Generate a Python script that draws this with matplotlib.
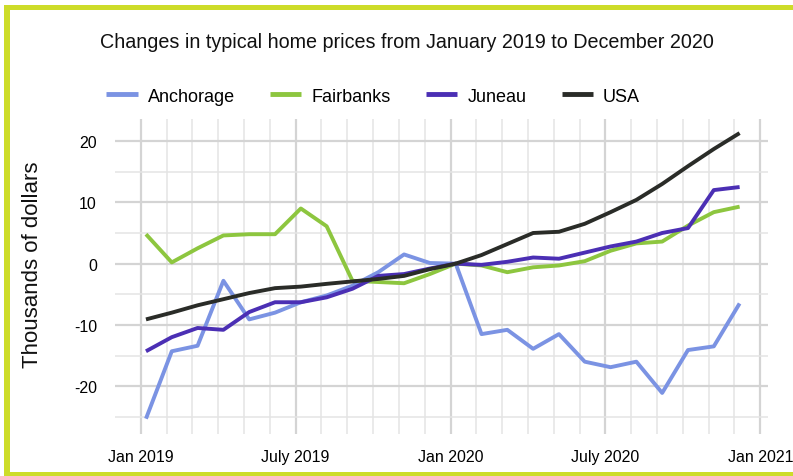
import matplotlib
matplotlib.use("Agg")
import matplotlib.pyplot as plt
from matplotlib.patches import Rectangle
import numpy as np

months = list(range(24))  # Jan 2019 .. Dec 2020
anchorage = [-25.3, -14.3, -13.4, -2.8, -9.1, -8.0, -6.3, -5.2, -3.6, -1.4, 1.5, 0.1,
             0.0, -11.5, -10.8, -13.9, -11.5, -16.0, -16.9, -16.0, -21.1, -14.1, -13.5, -6.5]
fairbanks = [4.8, 0.2, 2.5, 4.6, 4.8, 4.8, 9.0, 6.1, -2.8, -3.0, -3.2, -1.7,
             0.0, -0.3, -1.4, -0.6, -0.3, 0.4, 2.1, 3.3, 3.6, 6.2, 8.4, 9.3]
juneau = [-14.3, -12.0, -10.5, -10.8, -7.9, -6.3, -6.3, -5.5, -4.1, -2.0, -1.7, -0.8,
          0.0, -0.2, 0.3, 1.0, 0.8, 1.8, 2.8, 3.6, 5.0, 5.8, 12.0, 12.5]
usa = [-9.1, -8.0, -6.8, -5.8, -4.8, -4.0, -3.75, -3.3, -2.9, -2.5, -2.0, -0.9,
       0.0, 1.4, 3.2, 5.0, 5.2, 6.5, 8.4, 10.4, 13.0, 15.9, 18.7, 21.3]

series_names = ["Anchorage", "Fairbanks", "Juneau", "USA"]
series_values = [anchorage, fairbanks, juneau, usa]
colors = ["#7b93e3", "#8dc63f", "#4b2fb4", "#2a2c28"]

x_tick_pos = [0, 6, 12, 18, 24]
x_tick_labels = ["Jan 2019", "July 2019", "Jan 2020", "July 2020", "Jan 2021"]
y_ticks = [-20, -10, 0, 10, 20]

W, H = 793, 477
fig = plt.figure(figsize=(W / 100, H / 100), dpi=100)
fig.patch.set_facecolor("white")

font_main = ["Liberation Sans", "DejaVu Sans"]

ax_l, ax_r, ax_t, ax_b = 115, 768, 120, 435
ax = fig.add_axes([ax_l / W, 1 - ax_b / H, (ax_r - ax_l) / W, (ax_b - ax_t) / H])

x = np.array(months) + 0.2
for name, vals, c in zip(series_names, series_values, colors):
    ax.plot(x, vals, color=c, lw=2.8, label=name, solid_capstyle="butt", zorder=3)

ax.set_xlim(-1.0, 24.3)
ax.set_ylim(-27.8, 23.6)

ax.set_xticks(x_tick_pos)
ax.set_xticklabels(x_tick_labels, fontfamily=font_main, fontsize=11.5)
ax.set_xticks(range(25), minor=True)
ax.set_yticks(y_ticks)
ax.set_yticklabels([str(v) for v in y_ticks], fontfamily=font_main, fontsize=11.5)
ax.set_yticks(np.arange(-25, 21, 5), minor=True)

ax.tick_params(axis="both", which="both", length=0)
ax.tick_params(axis="x", pad=11)
ax.tick_params(axis="y", pad=13)

ax.grid(True, which="major", color="#d4d4d4", lw=1.6, zorder=0)
ax.grid(True, which="minor", color="#e4e4e4", lw=1.1, zorder=0)
ax.set_axisbelow(True)
for s in ax.spines.values():
    s.set_visible(False)

fig.text(33 / W, 1 - 265 / H, "Thousands of dollars", rotation=90,
         ha="center", va="center", fontsize=16, family=font_main, color="#111111")

fig.text(407 / W, 1 - 42 / H, "Changes in typical home prices from January 2019 to December 2020",
         ha="center", va="center", fontsize=14.2, family=font_main, color="#111111")

leg = fig.legend(loc="center left", bbox_to_anchor=(106 / W, 1 - 97 / H), ncol=4,
                 frameon=False, prop={"family": font_main, "size": 13},
                 handlelength=1.75, handletextpad=0.55, columnspacing=1.95,
                 borderpad=0, borderaxespad=0)
for lh in leg.get_lines():
    lh.set_linewidth(3.5)

border = "#cddc29"
fig.patches.append(Rectangle((4 / W, 1 - 477 / H), 6 / W, 471 / H, transform=fig.transFigure,
                             facecolor=border, edgecolor="none"))
fig.patches.append(Rectangle((4 / W, 1 - 11 / H), (W - 4) / W, 5 / H, transform=fig.transFigure,
                             facecolor=border, edgecolor="none"))
fig.patches.append(Rectangle((4 / W, 0), (W - 4) / W, 4 / H, transform=fig.transFigure,
                             facecolor=border, edgecolor="none"))

fig.savefig("out.png", dpi=100, facecolor="white")
